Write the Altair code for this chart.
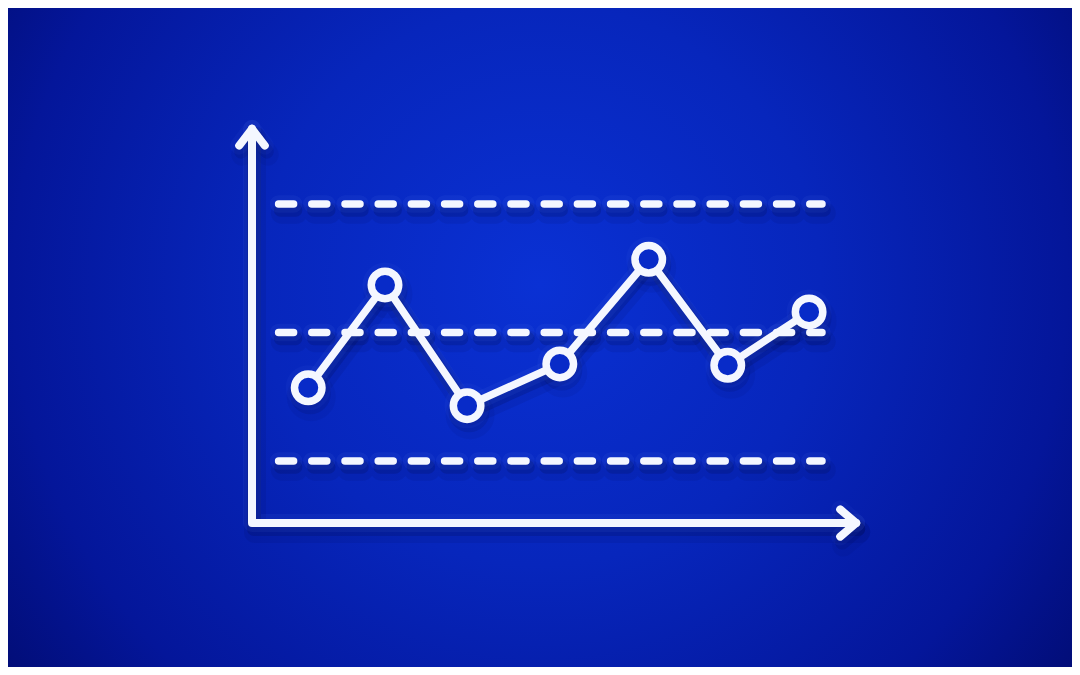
import altair as alt
import pandas as pd

# ---- data ----
sample_x = [0.74, 1.75, 2.83, 4.05, 5.22, 6.26, 7.33]
sample_y = [41.4, 57.4, 38.6, 45.1, 61.4, 44.9, 53.2]

limit_names = ["UCL", "CL", "LCL"]
limit_values = [70, 50, 30]
limit_x_start = [0.35, 0.35, 0.35]
limit_x_end = [7.5, 7.5, 7.5]

axis_x = [0.0, 0.0, 7.95]
axis_y = [81.7, 20.35, 20.35]
arrow_names = ["y", "x"]
arrow_x = [0.0, 7.95]
arrow_y = [81.7, 20.35]

W, H = 1064, 659
WHITE = "#f4f7ff"
SHADOW = "#000530"
CIRCLE_FILL = "#082bc8"
CIRCLE_SIZE = 756
CIRCLE_STROKE = 7.5

samples = pd.DataFrame({"i": list(range(len(sample_x))), "x": sample_x, "y": sample_y})
limits = pd.DataFrame({"name": limit_names, "value": limit_values,
                       "x": limit_x_start, "x2": limit_x_end})
axes = pd.DataFrame({"i": list(range(len(axis_x))), "x": axis_x, "y": axis_y})
arrows = pd.DataFrame({"name": arrow_names, "x": arrow_x, "y": arrow_y})

xs = alt.Scale(domain=[0, 8], range=[244, 852], nice=False, zero=False)
ys = alt.Scale(domain=[30, 70], range=[453, 196], nice=False, zero=False)

X = lambda f="x": alt.X(f"{f}:Q", scale=xs, axis=None)
Y = lambda f="y": alt.Y(f"{f}:Q", scale=ys, axis=None)

bg_gradient = {
    "gradient": "radial",
    "x1": 0.5, "y1": 0.45, "r1": 0,
    "x2": 0.5, "y2": 0.45, "r2": 0.66,
    "stops": [
        {"offset": 0.0, "color": "#0a31d4"},
        {"offset": 0.4, "color": "#0726bc"},
        {"offset": 0.75, "color": "#04169a"},
        {"offset": 1.0, "color": "#010a6c"},
    ],
}

background = alt.Chart(pd.DataFrame({"a": [0]})).mark_rect(fill=bg_gradient).encode(
    x=alt.value(0), x2=alt.value("width"), y=alt.value(0), y2=alt.value("height")
)


def styled_layers(color, opacity, width_add, dx, dy):
    common = dict(color=color, opacity=opacity, strokeCap="round", strokeJoin="round")
    lim = alt.Chart(limits).mark_rule(
        strokeWidth=7.5 + width_add, strokeDash=[15, 18.2],
        xOffset=dx, x2Offset=dx, yOffset=dy, **common
    ).encode(x=X("x"), x2="x2:Q", y=Y("value"))
    ax = alt.Chart(axes).mark_line(
        strokeWidth=8 + width_add, xOffset=dx, yOffset=dy, **common
    ).encode(x=X(), y=Y(), order="i:O")
    ln = alt.Chart(samples).mark_line(
        strokeWidth=7.5 + width_add, xOffset=dx, yOffset=dy, **common
    ).encode(x=X(), y=Y(), order="i:O")
    ay = alt.Chart(arrows[arrows["name"] == "y"]).mark_point(
        shape="M-0.8,1.05L0,0L0.8,1.05", size=1024, filled=False,
        strokeWidth=8 + width_add, xOffset=dx, yOffset=dy,
        stroke=color, strokeOpacity=opacity, strokeCap="round", strokeJoin="round"
    ).encode(x=X(), y=Y())
    axr = alt.Chart(arrows[arrows["name"] == "x"]).mark_point(
        shape="M-1,-0.85L0,0L-1,0.85", size=1024, filled=False,
        strokeWidth=8 + width_add, xOffset=dx, yOffset=dy,
        stroke=color, strokeOpacity=opacity, strokeCap="round", strokeJoin="round"
    ).encode(x=X(), y=Y())
    circ = alt.Chart(samples).mark_point(
        shape="circle", size=CIRCLE_SIZE, filled=False,
        strokeWidth=CIRCLE_STROKE + width_add, xOffset=dx, yOffset=dy,
        stroke=color, strokeOpacity=opacity
    ).encode(x=X(), y=Y())
    return [lim, ax, ln, ay, axr, circ]


shadow_wide = styled_layers(SHADOW, 0.08, 14, 3, 9)
shadow_near = styled_layers(SHADOW, 0.16, 6, 2, 6)
glow = styled_layers("#8fa8ff", 0.06, 10, 0, 0)

lim_w = alt.Chart(limits).mark_rule(
    color=WHITE, strokeWidth=7.5, strokeDash=[15, 18.2], strokeCap="round"
).encode(x=X("x"), x2="x2:Q", y=Y("value"))

axis_w = alt.Chart(axes).mark_line(
    color=WHITE, strokeWidth=8, strokeCap="round", strokeJoin="round"
).encode(x=X(), y=Y(), order="i:O")

arrow_yw = alt.Chart(arrows[arrows["name"] == "y"]).mark_point(
    shape="M-0.8,1.05L0,0L0.8,1.05", size=1024, filled=False, opacity=1,
    stroke=WHITE, strokeWidth=8, strokeCap="round", strokeJoin="round"
).encode(x=X(), y=Y())

arrow_xw = alt.Chart(arrows[arrows["name"] == "x"]).mark_point(
    shape="M-1,-0.85L0,0L-1,0.85", size=1024, filled=False, opacity=1,
    stroke=WHITE, strokeWidth=8, strokeCap="round", strokeJoin="round"
).encode(x=X(), y=Y())

line_w = alt.Chart(samples).mark_line(
    color=WHITE, strokeWidth=7.5, strokeCap="round", strokeJoin="round"
).encode(x=X(), y=Y(), order="i:O")

circles_w = alt.Chart(samples).mark_circle(
    size=CIRCLE_SIZE, fill=CIRCLE_FILL, stroke=WHITE, strokeWidth=CIRCLE_STROKE, opacity=1
).encode(x=X(), y=Y())

chart = alt.layer(
    background,
    *shadow_wide, *shadow_near, *glow,
    lim_w, axis_w, arrow_yw, arrow_xw, line_w, circles_w
).properties(
    width=W, height=H,
    autosize=alt.AutoSizeParams(type="none"),
    padding=0,
    background="#010a6c",
).configure_view(stroke=None)

chart.save("out.html", embed_options={"renderer": "svg", "actions": False})
